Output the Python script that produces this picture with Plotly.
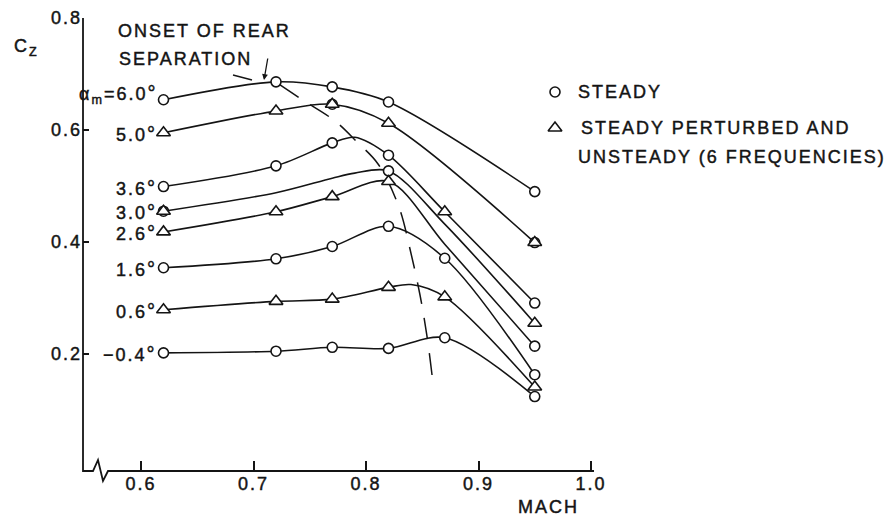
import plotly.graph_objects as go

# ---------------------------------------------------------------------------
# Lift coefficient Cz against Mach number for several mean incidences.
# Point codes: "o" steady, "^" steady perturbed / unsteady, "b" both,
# "." fairing point of the curve (no symbol).
# ---------------------------------------------------------------------------
ALPHA_LABELS = ["α<sub>m</sub>=6.0", "5.0", "3.6", "3.0", "2.6", "1.6", "0.6", "−0.4"]

M_6_0 = [0.62, 0.72, 0.77, 0.82, 0.95]
CZ_6_0 = [0.654, 0.686, 0.677, 0.650, 0.490]
PT_6_0 = "ooooo"

M_5_0 = [0.62, 0.72, 0.77, 0.82, 0.95]
CZ_5_0 = [0.595, 0.634, 0.646, 0.612, 0.399]
PT_5_0 = "^^b^b"

M_3_6 = [0.62, 0.72, 0.77, 0.79, 0.82, 0.87, 0.95]
CZ_3_6 = [0.499, 0.536, 0.577, 0.587, 0.555, 0.454, 0.291]
PT_3_6 = "ooo.o^o"

M_3_0 = [0.62, 0.72, 0.77, 0.79, 0.82, 0.87, 0.95]
CZ_3_0 = [0.455, 0.488, 0.514, 0.523, 0.527, 0.432, 0.255]
PT_3_0 = "b...o.^"

M_2_6 = [0.62, 0.72, 0.77, 0.82, 0.87, 0.95]
CZ_2_6 = [0.418, 0.454, 0.481, 0.508, 0.396, 0.214]
PT_2_6 = "^^^^.o"

M_1_6 = [0.62, 0.72, 0.77, 0.82, 0.87, 0.95]
CZ_1_6 = [0.354, 0.370, 0.392, 0.428, 0.371, 0.163]
PT_1_6 = "oooooo"

M_0_6 = [0.62, 0.72, 0.77, 0.82, 0.84, 0.87, 0.95]
CZ_0_6 = [0.279, 0.294, 0.298, 0.319, 0.324, 0.302, 0.141]
PT_0_6 = "^^^^.^^"

M_M0_4 = [0.62, 0.72, 0.77, 0.82, 0.87, 0.95]
CZ_M0_4 = [0.202, 0.205, 0.212, 0.210, 0.229, 0.124]
PT_M0_4 = "oooooo"

# Locus of the onset of rear separation
SEP_MACH = [0.7236, 0.7422, 0.7724, 0.792, 0.8107, 0.8293, 0.8391, 0.848, 0.8542, 0.8587]
SEP_CZ = [0.6804, 0.6554, 0.6161, 0.5786, 0.5393, 0.4625, 0.3875, 0.3054, 0.2321, 0.1625]

X_TICKS = [0.6, 0.7, 0.8, 0.9, 1.0]
X_TICK_LABELS = ["0.6", "0.7", "0.8", "0.9", "1.0"]
Y_TICKS = [0.2, 0.4, 0.6, 0.8]
Y_TICK_LABELS = ["0.2", "0.4", "0.6", "0.8"]

CURVES = [
    (M_6_0, CZ_6_0, PT_6_0),
    (M_5_0, CZ_5_0, PT_5_0),
    (M_3_6, CZ_3_6, PT_3_6),
    (M_3_0, CZ_3_0, PT_3_0),
    (M_2_6, CZ_2_6, PT_2_6),
    (M_1_6, CZ_1_6, PT_1_6),
    (M_0_6, CZ_0_6, PT_0_6),
    (M_M0_4, CZ_M0_4, PT_M0_4),
]

# ---------------------------------------------------------------------------
W, H = 893, 517
INK = "#141414"
FONT = "Liberation Sans, Arial, Helvetica, sans-serif"
FS = 18


def spaced(s):
    return ('<span style="letter-spacing:2px;stroke:#141414;stroke-width:0.45px">'
            + s + "</span>")


DEG = '<span style="font-size:20px">°</span>'


def px(x, y):
    """Figure pixel position -> paper coordinates (margins are zero)."""
    return x / W, 1 - y / H


fig = go.Figure()

circ_x, circ_y, tri_x, tri_y = [], [], [], []
for mach, cz, pts in CURVES:
    fig.add_trace(go.Scatter(
        x=mach, y=cz, mode="lines", showlegend=False, hoverinfo="skip",
        line=dict(color=INK, width=1.6, shape="spline", smoothing=0.9),
    ))
    for m, c, p in zip(mach, cz, pts):
        if p in "ob":
            circ_x.append(m)
            circ_y.append(c)
        if p in "^b":
            tri_x.append(m)
            tri_y.append(c)

# onset of rear separation (dashed)
fig.add_trace(go.Scatter(
    x=SEP_MACH, y=SEP_CZ, mode="lines", showlegend=False, hoverinfo="skip",
    line=dict(color=INK, width=1.5, dash="22px,14px", shape="spline"),
))

fig.add_trace(go.Scatter(
    x=circ_x, y=circ_y, mode="markers", showlegend=False,
    marker=dict(symbol="circle", size=10, color="white", line=dict(color=INK, width=1.6)),
))
fig.add_trace(go.Scatter(
    x=tri_x, y=tri_y, mode="markers", showlegend=False,
    marker=dict(symbol="triangle-up", size=12, color="white", line=dict(color=INK, width=1.6)),
))

# key symbols, on a hidden pixel-scaled pair of axes
fig.add_trace(go.Scatter(
    x=[555], y=[92], xaxis="x2", yaxis="y2", mode="markers", showlegend=False,
    marker=dict(symbol="circle", size=10, color="white", line=dict(color=INK, width=1.6)),
))
fig.add_trace(go.Scatter(
    x=[555], y=[128], xaxis="x2", yaxis="y2", mode="markers", showlegend=False,
    marker=dict(symbol="triangle-up", size=12, color="white", line=dict(color=INK, width=1.6)),
))

tick_font = dict(family=FONT, size=FS, color=INK)
x_lo = 0.6 - 58 / 1125
x_hi = 1.0 + 2 / 1125
fig.update_layout(
    template="none",
    width=W, height=H,
    margin=dict(l=0, r=0, t=0, b=0, autoexpand=False),
    paper_bgcolor="white", plot_bgcolor="rgba(0,0,0,0)",
    xaxis=dict(
        domain=[83 / W, 593 / W], range=[x_lo, x_hi], automargin=False,
        showline=False, showgrid=False, zeroline=False,
        ticks="inside", ticklen=10, tickwidth=1.6, tickcolor=INK,
        tickvals=X_TICKS, ticktext=[spaced(t) for t in X_TICK_LABELS],
        tickfont=tick_font, anchor="y",
    ),
    yaxis=dict(
        domain=[1 - 471 / H, 1 - 18 / H], range=[0.2 - 117 / 560, 0.8], automargin=False,
        showline=False, showgrid=False, zeroline=False,
        ticks="inside", ticklen=6, tickwidth=1.6, tickcolor=INK,
        tickvals=Y_TICKS, ticktext=[spaced(t) for t in Y_TICK_LABELS],
        tickfont=tick_font, anchor="x",
    ),
    xaxis2=dict(domain=[540 / W, 1], range=[540, W], visible=False, anchor="y2",
                automargin=False),
    yaxis2=dict(domain=[1 - 207 / H, 1], range=[207, 0], visible=False, anchor="x2",
                automargin=False),
)

# axes frame with the broken Mach axis
pts = [(83, 18), (83, 471), (93, 471), (98, 460), (103, 481), (108, 471), (594, 471)]
path = "M" + " L".join("%.5f,%.5f" % px(x, y) for x, y in pts)
shapes = [dict(type="path", path=path, xref="paper", yref="paper",
               line=dict(color=INK, width=1.8))]
# leader under the separation note
x0, y0 = px(233, 75)
x1, y1 = px(252, 80)
shapes.append(dict(type="line", xref="paper", yref="paper", x0=x0, y0=y0, x1=x1, y1=y1,
                   line=dict(color=INK, width=1.3)))
fig.update_layout(shapes=shapes)

font = dict(family=FONT, size=FS, color=INK)
annotations = []


def note(text, x, y, xanchor="left"):
    X, Y = px(x, y)
    annotations.append(dict(text=spaced(text), x=X, y=Y, xref="paper", yref="paper",
                            xanchor=xanchor, yanchor="middle", showarrow=False, font=font))


# incidence labels beside the first point of each curve
for (mach, cz, _), lab in zip(CURVES, ALPHA_LABELS):
    annotations.append(dict(
        text=spaced(lab + DEG), x=mach[0], y=cz[0], xref="x", yref="y",
        xanchor="right", yanchor="middle", xshift=-5,
        yshift=5 if lab.startswith("α") else -1,
        showarrow=False, font=font,
    ))

note("C<sub>Z</sub>", 12, 48)
note("ONSET OF REAR", 116, 31)
note("SEPARATION", 117, 59)
note("MACH", 516, 507)
note("STEADY", 576, 92)
note("STEADY PERTURBED AND", 579, 128)
note("UNSTEADY (6 FREQUENCIES)", 576, 157)

# arrow to the start of separation
hx, hy = px(264, 80)
annotations.append(dict(text="", x=hx, y=hy, xref="paper", yref="paper",
                        ax=4, ay=-23, showarrow=True, arrowhead=2, arrowsize=0.9,
                        arrowwidth=1.3, arrowcolor=INK, standoff=0))

fig.update_layout(annotations=annotations)

fig.write_html("out.html")
